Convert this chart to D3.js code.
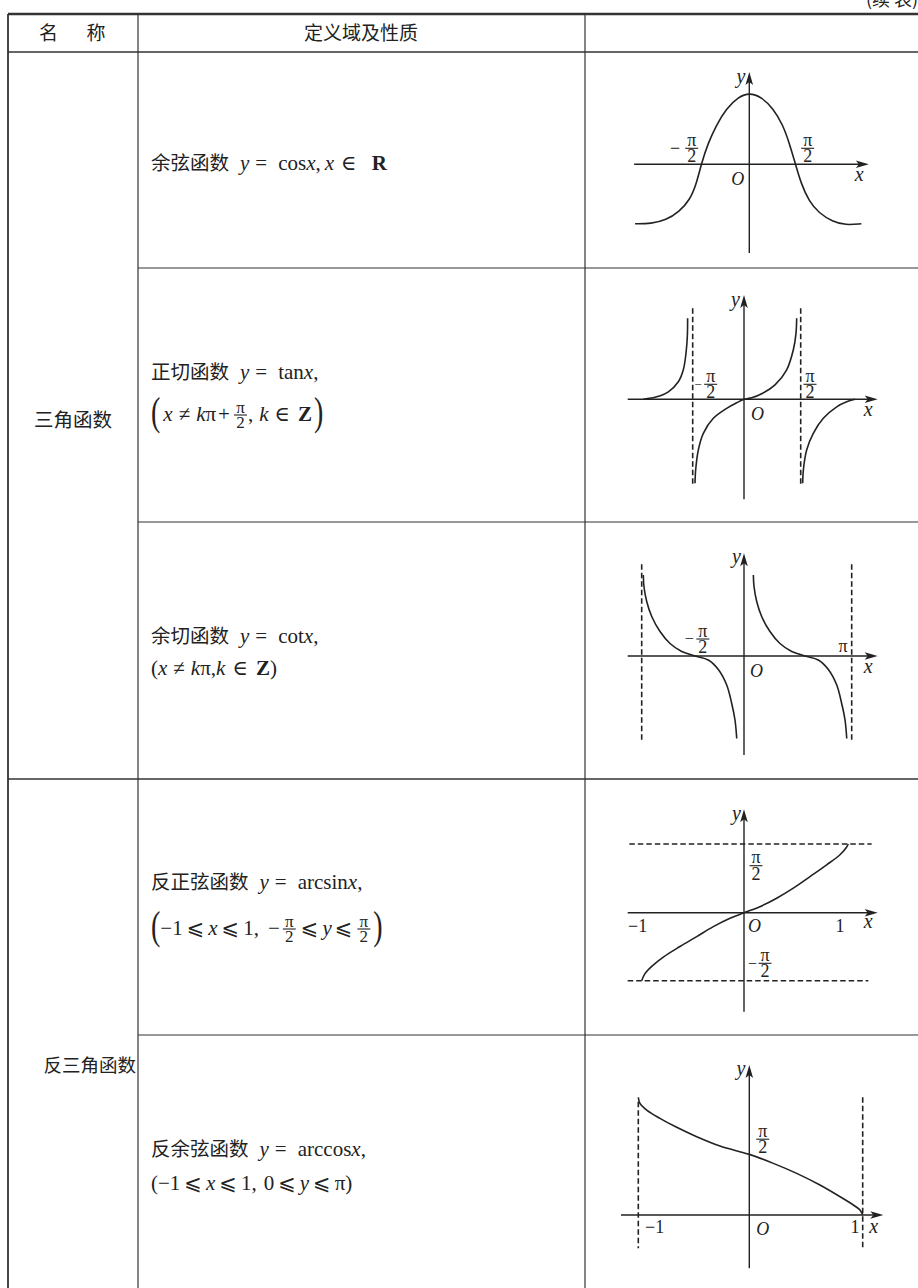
<!DOCTYPE html>
<html><head><meta charset="utf-8">
<script src="https://cdn.jsdelivr.net/npm/d3@7"></script>
<style>
html,body{margin:0;padding:0;background:#fff;}
svg{display:block;}
.cjk{font-family:"Noto Sans CJK SC","Noto Sans CJK TC",sans-serif;fill:#222;}
.m{font-family:"Liberation Serif","DejaVu Serif","DejaVu Sans",serif;fill:#222;}
</style></head><body>
<svg id="c" width="918" height="1288"></svg>
<script>
// ---------- data ----------
// cos: x in units of π/2, y in units of the peak height
const cosCurveX = [-2.40,-2.06,-1.75,-1.47,-1.25,-1.11,-1.01,-0.87,-0.69,-0.48,-0.23,0,0.26,0.51,0.72,0.86,0.99,1.11,1.28,1.49,1.78,2.06,2.40];
const cosCurveY = [-0.83,-0.83,-0.78,-0.66,-0.50,-0.27,0,0.29,0.55,0.78,0.94,1.0,0.94,0.78,0.55,0.29,0,-0.27,-0.52,-0.68,-0.80,-0.85,-0.83];
// tan: x in units of π/2
const tanB1X = [-1.963,-1.702,-1.475,-1.280,-1.183,-1.131,-1.105,-1.099];
const tanB1Y = [0,0.05,0.15,0.35,0.59,0.92,1.25,1.62];
const tanB2X = [-0.955,-0.942,-0.890,-0.793,-0.598,-0.338,-0.143,0,0.135,0.312,0.547,0.753,0.870,0.917,0.929];
const tanB2Y = [-1.68,-1.41,-1.01,-0.68,-0.38,-0.18,-0.07,0,0.03,0.11,0.29,0.59,0.99,1.32,1.62];
const tanB3X = [1.035,1.047,1.106,1.222,1.399,1.635,1.811,1.958];
const tanB3Y = [-1.68,-1.41,-1.01,-0.68,-0.38,-0.15,-0.05,0];
const tanAsymptotes = [-1, 1];
// cot: x in units of π
const cotB1X = [-0.984,-0.978,-0.951,-0.902,-0.821,-0.723,-0.609,-0.479,-0.349,-0.251,-0.169,-0.120,-0.088,-0.071];
const cotB2X = [0.087,0.093,0.118,0.164,0.241,0.334,0.443,0.567,0.690,0.783,0.861,0.907,0.938,0.954];
const cotBY  = [1.62,1.39,1.09,0.79,0.49,0.25,0.09,0,-0.08,-0.27,-0.58,-0.95,-1.28,-1.65];
const cotAsymptotes = [-1, 1];
// arcsin: y in units of π/2
const asinX = [-1,-0.968,-0.902,-0.789,-0.626,-0.462,-0.300,-0.137,0,0.153,0.313,0.473,0.633,0.793,0.920,0.978,1];
const asinY = [-1,-0.896,-0.789,-0.652,-0.497,-0.351,-0.205,-0.082,0,0.088,0.211,0.357,0.526,0.697,0.844,0.942,1];
const asinBounds = [1, -1];
// arccos: y in units of π/2
const acosX = [-1,-0.985,-0.924,-0.805,-0.654,-0.474,-0.264,0,0.212,0.418,0.623,0.800,0.917,0.976,1];
const acosY = [2.0,1.898,1.784,1.643,1.490,1.331,1.172,1.031,0.878,0.708,0.510,0.311,0.170,0.085,0];
const acosBounds = [-1, 1];
// labels
const headers = ['名','称','定义域及性质'];
const groups = ['三角函数','反三角函数'];
const cornerNote = '(续 表)';

// ---------- drawing ----------
const svg = d3.select('#c');
const INK = '#222';

// table
const T = {left:8, c1:138, c2:585, right:918, top:14, head:52, r1:268, r2:522, r3:779, r4:1035, bottom:1288};
const hl = (x1,x2,y,w)=>svg.append('line').attr('x1',x1).attr('x2',x2).attr('y1',y).attr('y2',y).attr('stroke','#333').attr('stroke-width',w||1.2);
const vl = (x,y1,y2,w)=>svg.append('line').attr('x1',x).attr('x2',x).attr('y1',y1).attr('y2',y2).attr('stroke','#333').attr('stroke-width',w||1.2);
hl(T.left,T.right,T.top,2.4);
hl(T.left,T.right,T.head,1.3);
hl(T.c1,T.right,T.r1);
hl(T.c1,T.right,T.r2);
hl(T.left,T.right,T.r3,1.3);
hl(T.c1,T.right,T.r4);
vl(T.left,T.top,T.bottom,1.8);
vl(T.c1,T.top,T.bottom,1.2);
vl(T.c2,T.top,T.bottom,1.2);

svg.append('text').attr('class','cjk').attr('x',866).attr('y',6).style('font-size','18px').text(cornerNote);

function cjk(x,y,t,anchor,fs){
  return svg.append('text').attr('class','cjk').attr('x',x).attr('y',y)
    .attr('text-anchor',anchor||'start').style('font-size',(fs||19)+'px').text(t);
}
cjk(39,40,headers[0]);
cjk(96,40,headers[1],'middle');
cjk(361,40,headers[2],'middle');
cjk(73,427,groups[0],'middle',19.5);
cjk(136,1072,groups[1],'end',18.5);

// fraction drawn as one text element (numerator / denominator tspans) plus a bar
function frac(g,cx,bar,num,den,fs){
  fs = fs||17;
  const t = g.append('text').attr('class','m').attr('text-anchor','middle').style('font-size',fs+'px');
  t.append('tspan').attr('x',cx).attr('y',bar-2.5).text(num);
  t.append('tspan').attr('x',cx).attr('y',bar+fs*0.78).text(den);
  g.append('line').attr('x1',cx-6.5).attr('x2',cx+6.5).attr('y1',bar).attr('y2',bar).attr('stroke',INK).attr('stroke-width',1.1);
}
function mathLine(x,y,segs){
  const g = svg.append('g');
  let cx = x;
  segs.forEach(s=>{
    if (s.g!==undefined){ cx += s.g; return; }
    if (s.frac){ frac(g,cx+6.5,y-6,s.frac[0],s.frac[1],17); cx += 13; return; }
    if (s.big){
      const t = g.append('text').attr('class','m').style('font-size','28px')
        .attr('transform',`translate(${cx},${y+4}) scale(1,1.45)`).text(s.big);
      cx += t.node().getComputedTextLength(); return;
    }
    const t = g.append('text').attr('x',cx).attr('y',y).text(s.t);
    if (s.f==='c'){ t.attr('class','cjk').style('font-size','19.5px'); }
    else {
      t.attr('class','m').style('font-size','21px');
      if (s.f==='i') t.style('font-style','italic');
      if (s.f==='b') t.style('font-weight','bold');
    }
    cx += t.node().getComputedTextLength();
  });
}
const C=t=>({t,f:'c'}), R=t=>({t,f:'r'}), I=t=>({t,f:'i'}), B=t=>({t,f:'b'}), G=g=>({g});
const X0 = 151;
mathLine(X0,170,[C('余弦函数'),G(11),I('y'),G(6),R('='),G(11),R('cos'),I('x'),R(','),G(4),I('x'),G(7),R('∈'),G(15),B('R')]);
mathLine(X0,379,[C('正切函数'),G(11),I('y'),G(6),R('='),G(11),R('tan'),I('x'),R(',')]);
mathLine(X0,421,[{big:'('},G(3),I('x'),G(6),R('≠'),G(6),I('k'),R('π'),G(2),R('+'),G(4),{frac:['π','2']},G(1),R(','),G(6),I('k'),G(6),R('∈'),G(8),B('Z'),G(2),{big:')'}]);
mathLine(X0,643,[C('余切函数'),G(11),I('y'),G(6),R('='),G(11),R('cot'),I('x'),R(',')]);
mathLine(X0,675,[R('('),I('x'),G(6),R('≠'),G(6),I('k'),R('π'),R(','),I('k'),G(7),R('∈'),G(8),B('Z'),R(')')]);
mathLine(X0,889,[C('反正弦函数'),G(11),I('y'),G(6),R('='),G(11),R('arcsin'),I('x'),R(',')]);
mathLine(X0,935,[{big:'('},R('−1'),G(4),R('⩽'),G(4),I('x'),G(4),R('⩽'),G(4),R('1'),R(','),G(9),R('−'),G(3),{frac:['π','2']},G(5),R('⩽'),G(4),I('y'),G(3),R('⩽'),G(5),{frac:['π','2']},G(3),{big:')'}]);
mathLine(X0,1156,[C('反余弦函数'),G(11),I('y'),G(6),R('='),G(11),R('arccos'),I('x'),R(',')]);
mathLine(X0,1190,[R('('),R('−1'),G(4),R('⩽'),G(4),I('x'),G(4),R('⩽'),G(4),R('1'),R(','),G(7),R('0'),G(4),R('⩽'),G(4),I('y'),G(4),R('⩽'),G(4),R('π'),R(')')]);

// graph helpers
function arrowRight(g,x,y){
  g.append('path').attr('d',`M${x},${y} L${x-13},${y-3.8} L${x-10},${y} L${x-13},${y+3.8} Z`).attr('fill',INK);
}
function arrowUp(g,x,y){
  g.append('path').attr('d',`M${x},${y} L${x-3.8},${y+13} L${x},${y+10} L${x+3.8},${y+13} Z`).attr('fill',INK);
}
function axes(g,sx,sy,xa,ya){
  g.append('line').attr('x1',sx(xa[0])).attr('x2',sx(xa[1])-8).attr('y1',sy(0)).attr('y2',sy(0)).attr('stroke',INK).attr('stroke-width',1.4);
  arrowRight(g,sx(xa[1]),sy(0));
  g.append('line').attr('x1',sx(0)).attr('x2',sx(0)).attr('y1',sy(ya[0])).attr('y2',sy(ya[1])+8).attr('stroke',INK).attr('stroke-width',1.4);
  arrowUp(g,sx(0),sy(ya[1]));
}
function curve(g,sx,sy,X,Y,cf){
  const line = d3.line().x(i=>sx(X[i])).y(i=>sy(Y[i])).curve(cf||d3.curveCatmullRom.alpha(0.5));
  g.append('path').attr('d',line(d3.range(X.length))).attr('fill','none').attr('stroke',INK).attr('stroke-width',1.6);
}
function dash(g,x1,y1,x2,y2){
  g.append('line').attr('x1',x1).attr('x2',x2).attr('y1',y1).attr('y2',y2).attr('stroke',INK).attr('stroke-width',1.6).attr('stroke-dasharray','5.5,3');
}
function lab(g,x,y,t,anchor,style,fs){
  const e = g.append('text').attr('class','m').attr('x',x).attr('y',y).attr('text-anchor',anchor||'start').style('font-size',(fs||20)+'px').text(t);
  if (style==='i') e.style('font-style','italic');
  return e;
}

// 1. cos
{
  const g = svg.append('g');
  const sx = d3.scaleLinear().domain([-1,0,1]).range([701.7,749.3,796]);
  const sy = d3.scaleLinear().domain([0,1]).range([164.3,92.7]);
  const xa=[-2.42,2.56], ya=[-1.24,1.29];
  axes(g,sx,sy,xa,ya);
  curve(g,sx,sy,cosCurveX,cosCurveY,d3.curveBasis);
  lab(g,sx(0)-4,sy(ya[1])+11,'y','end','i');
  lab(g,sx(xa[1])-14,sy(0)+17,'x','start','i');
  lab(g,sx(0)-5,sy(0)+21,'O','end','i',18);
  lab(g,sx(-1)-21.5,sy(0)-10,'−','end','r',18);
  frac(g,sx(-1)-10,sy(0)-16,'π','2',18);
  frac(g,sx(1)+11.7,sy(0)-16,'π','2',18);
}
// 2. tan
{
  const g = svg.append('g');
  const sx = d3.scaleLinear().domain([-1,0,1]).range([692.7,744,800.7]);
  const sy = d3.scaleLinear().domain([0,1]).range([399.3,349.3]);
  const xa=[-2.267,2.358], ya=[-2.0,2.086];
  tanAsymptotes.forEach(a=>dash(g,sx(a),sy(1.82),sx(a),sy(-1.748)));
  axes(g,sx,sy,xa,ya);
  curve(g,sx,sy,tanB1X,tanB1Y);
  curve(g,sx,sy,tanB2X,tanB2Y);
  curve(g,sx,sy,tanB3X,tanB3Y);
  lab(g,sx(0)-4,sy(ya[1])+11,'y','end','i');
  lab(g,sx(0)+7,sy(0)+21,'O','start','i',18);
  lab(g,sx(xa[1])-14,sy(0)+17,'x','start','i');
  lab(g,sx(-1)+9,sy(0)-10,'−','end','r',13);
  frac(g,sx(-1)+18,sy(0)-15,'π','2',18);
  frac(g,sx(1)+9.3,sy(0)-15,'π','2',18);
}
// 3. cot
{
  const g = svg.append('g');
  const sx = d3.scaleLinear().domain([-1,0,1]).range([641.7,744,851.7]);
  const sy = d3.scaleLinear().domain([0,1]).range([656,606]);
  const xa=[-1.137,1.241], ya=[-1.98,2.054];
  cotAsymptotes.forEach(a=>dash(g,sx(a),sy(1.834),sx(a),sy(-1.734)));
  axes(g,sx,sy,xa,ya);
  curve(g,sx,sy,cotB1X,cotBY);
  curve(g,sx,sy,cotB2X,cotBY);
  lab(g,sx(0)-3,sy(ya[1])+10,'y','end','i');
  lab(g,sx(0)+6,sy(0)+21,'O','start','i',18);
  lab(g,sx(xa[1])-14,sy(0)+17,'x','start','i');
  lab(g,sx(-0.5)+1,sy(0)-12,'−','end','r',16);
  frac(g,sx(-0.5)+10,sy(0)-17,'π','2',18);
  lab(g,sx(1)-8.7,sy(0)-4,'π','middle','r',18);
}
// 4. arcsin
{
  const g = svg.append('g');
  const sx = d3.scaleLinear().domain([-1,0,1]).range([641.7,744,848.3]);
  const sy = d3.scaleLinear().domain([-1,0,1]).range([980.7,912.7,844]);
  const xa=[-1.137,1.282], ya=[-1.456,1.505];
  dash(g,sx(-1.121),sy(asinBounds[0]),sx(1.224),sy(asinBounds[0]));
  dash(g,sx(-1.137),sy(asinBounds[1]),sx(1.192),sy(asinBounds[1]));
  axes(g,sx,sy,xa,ya);
  curve(g,sx,sy,asinX,asinY);
  lab(g,sx(0)-3,sy(ya[1])+11,'y','end','i');
  frac(g,sx(0)+12,sy(1)+21.7,'π','2',18);
  lab(g,sx(0)+13,sy(-1)-12,'−','end','r',16);
  frac(g,sx(0)+21,sy(-1)-17.4,'π','2',18);
  lab(g,sx(-1)-13.7,sy(0)+19,'−1','start','r',18);
  lab(g,sx(0)+4,sy(0)+19,'O','start','i',18);
  lab(g,sx(1)-8.3,sy(0)+19,'1','middle','r',18);
  lab(g,sx(xa[1])-14,sy(0)+15.5,'x','start','i');
}
// 5. arccos
{
  const g = svg.append('g');
  const sx = d3.scaleLinear().domain([-1,0,1]).range([638.3,749.3,862.7]);
  const sy = d3.scaleLinear().domain([0,1,2]).range([1215,1156.2,1097.3]);
  const xa=[-1.156,1.182], ya=[-0.906,2.549];
  dash(g,sx(acosBounds[0]),sy(1.925),sx(acosBounds[0]),sy(-0.566));
  dash(g,sx(acosBounds[1]),sy(2.0),sx(acosBounds[1]),sy(-0.566));
  axes(g,sx,sy,xa,ya);
  curve(g,sx,sy,acosX,acosY);
  lab(g,sx(0)-4,sy(ya[1])+10,'y','end','i');
  frac(g,sx(0)+13.4,sy(1)-17,'π','2',18);
  lab(g,sx(-1)+6.7,sy(0)+18,'−1','start','r',18);
  lab(g,sx(0)+7,sy(0)+20,'O','start','i',18);
  lab(g,sx(1)-7.7,sy(0)+18,'1','middle','r',18);
  lab(g,sx(xa[1])-14,sy(0)+18,'x','start','i');
}
</script>
</body></html>
